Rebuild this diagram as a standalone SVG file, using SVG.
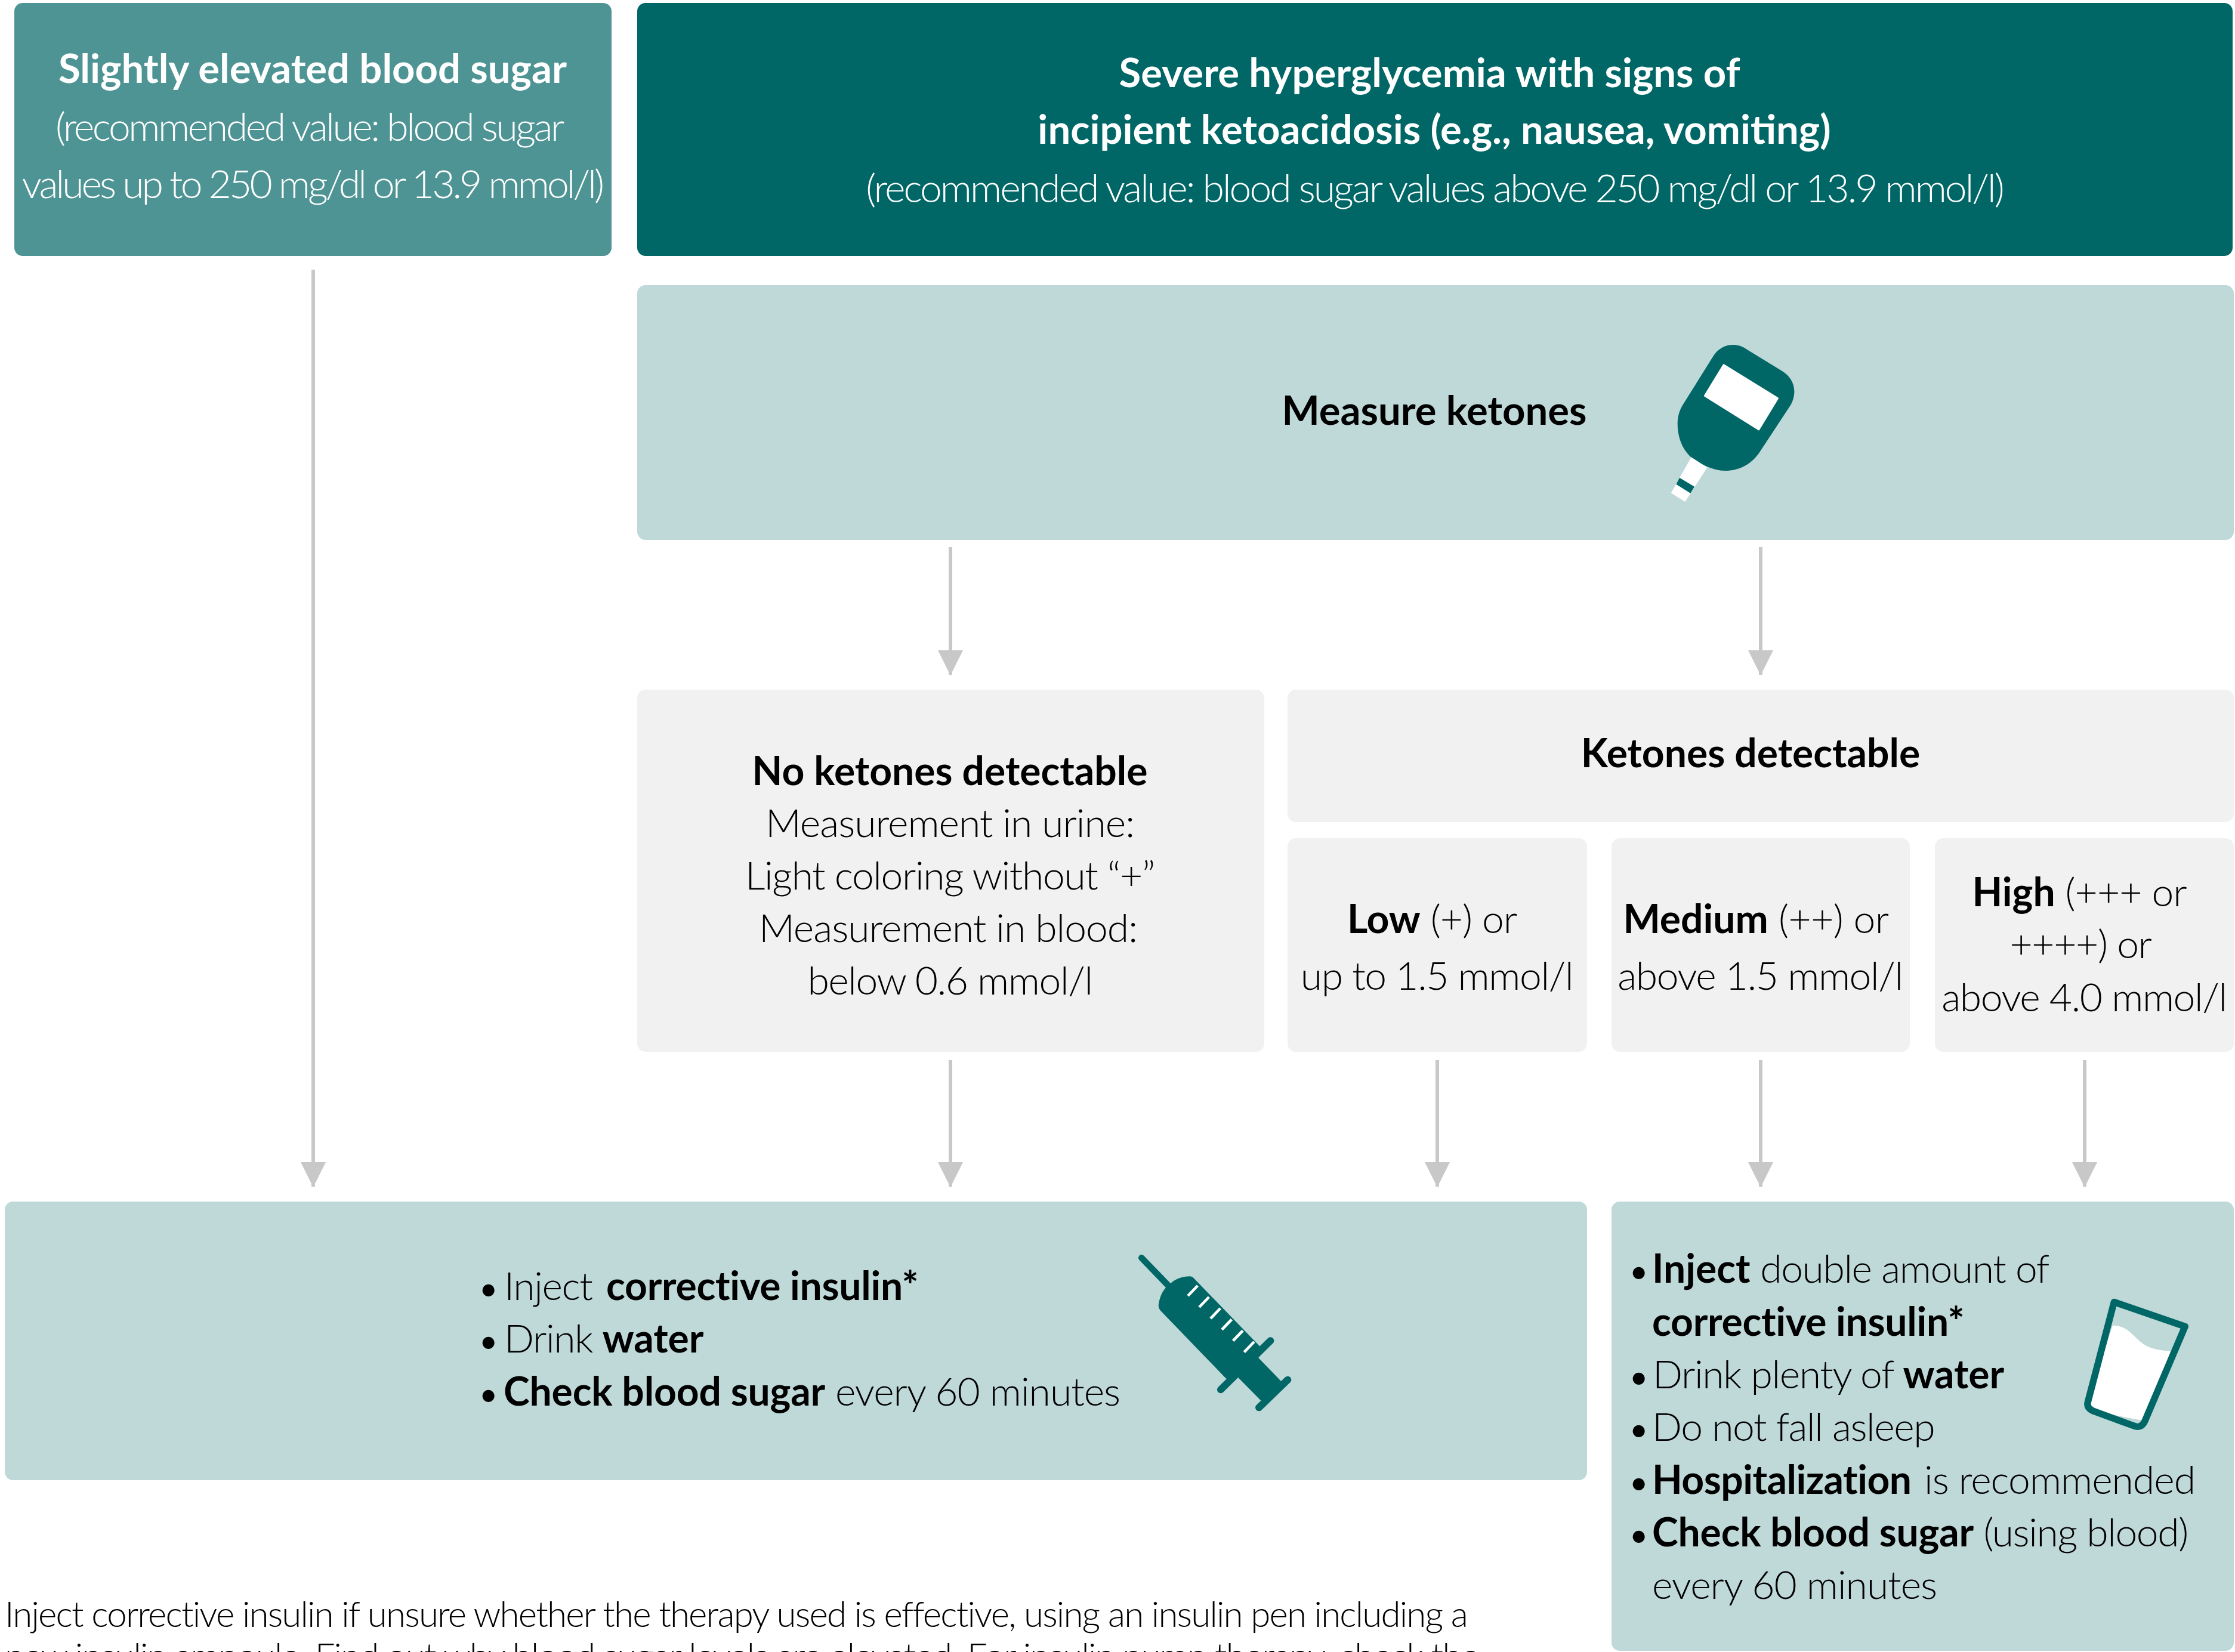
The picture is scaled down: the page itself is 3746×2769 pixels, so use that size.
<svg xmlns="http://www.w3.org/2000/svg" width="3746" height="2769" viewBox="0 0 3746 2769">
<style>
text{font-family:Lato,"Open Sans","Liberation Sans",sans-serif;font-size:66px;font-weight:300;fill:#000;letter-spacing:-1.4px}
.c{text-anchor:middle}
.w{fill:#fff}
.b{font-weight:700;letter-spacing:0}
.s1{letter-spacing:-.15px}
.s2{letter-spacing:-.25px}
.s3{letter-spacing:-.5px}
.m{letter-spacing:-1px}
.n{letter-spacing:-.6px}
.hd{font-size:67px}
.t1{letter-spacing:-3.4px}
.t3{letter-spacing:-3.9px}
.t2{letter-spacing:-2.95px}
.bu{font-size:54px;font-weight:400}
.f{font-size:60px;letter-spacing:-1.8px}
.teal{fill:#006766}
.line{stroke:#c8c8c8;stroke-width:6;fill:none;marker-end:url(#ah)}
</style>
<defs><marker id="ah" markerUnits="userSpaceOnUse" markerWidth="44" markerHeight="42" refX="41" refY="21" orient="auto"><path d="M0 0L42 21L0 42Z" fill="#c8c8c8"/></marker></defs>
<rect width="3746" height="2769" fill="#fff"/>
<g id="connectors">
<path class="line" d="M525 452V1989"/>
<path class="line" d="M1593 917V1131"/>
<path class="line" d="M2951 917V1131"/>
<path class="line" d="M1593 1777V1989"/>
<path class="line" d="M2409 1777V1989"/>
<path class="line" d="M2951 1777V1989"/>
<path class="line" d="M3494 1777V1989"/>
</g>
<g id="n1"><rect x="24" y="5" width="1001" height="424" rx="14" fill="#4f9494"/>
<text class="c w b hd" x="524" y="139">Slightly elevated blood sugar</text>
<text class="c w t1" x="518" y="236">(recommended value: blood sugar</text>
<text class="c w t3" x="523" y="332">values up to 250 mg/dl or 13.9 mmol/l)</text></g>
<g id="n2"><rect x="1068" y="5" width="2674" height="424" rx="14" fill="#006766"/>
<text class="c w b hd" x="2396" y="146">Severe hyperglycemia with signs of</text>
<text class="c w b hd" x="2404" y="241">incipient ketoacidosis (e.g., nausea, vomiting)</text>
<text class="c w t2" x="2404" y="339">(recommended value: blood sugar values above 250 mg/dl or 13.9 mmol/l)</text></g>
<g id="n3"><rect x="1068" y="478" width="2676" height="427" rx="14" fill="#bfd8d8"/>
<text class="c b hd" x="2404" y="712">Measure ketones</text>
<g transform="translate(2700,500) scale(.33333)">
<path class="teal" d="M515 290C555 228 630 220 680 255L860 365C920 400 940 470 905 535L750 770C712 830 650 867 575 867C525 867 470 845 408 803C360 765 335 700 335 630C335 595 345 560 365 530Z"/>
<path fill="#fff" stroke="#fff" stroke-width="10" stroke-linejoin="round" d="M567 336L838 503L743 659L473 490Z"/>
<path fill="#fff" stroke="#fff" stroke-width="6" stroke-linejoin="round" d="M405 803L480 852L372 1019L306 978Z"/>
<path class="teal" d="M345 902L420 947L400 980L328 935Z"/>
</g></g>
<g id="n4"><rect x="1068" y="1156" width="1051" height="607" rx="14" fill="#f1f1f1"/>
<text class="c b" x="1592" y="1316">No ketones detectable</text>
<text class="c m" x="1592" y="1403">Measurement in urine:</text>
<text class="c" x="1592" y="1491">Light coloring without “+”</text>
<text class="c m" x="1589" y="1579">Measurement in blood:</text>
<text class="c" x="1592" y="1667">below 0.6 mmol/l</text></g>
<g id="n5"><rect x="2158" y="1156" width="1586" height="222" rx="14" fill="#f1f1f1"/>
<text class="c b" x="2934" y="1286">Ketones detectable</text></g>
<g id="n6"><rect x="2158" y="1405" width="502" height="358" rx="14" fill="#f1f1f1"/>
<text class="c m" x="2400" y="1564"><tspan class="b">Low</tspan> (+) or</text>
<text class="c" x="2408" y="1659">up to 1.5 mmol/l</text></g>
<g id="n7"><rect x="2701" y="1405" width="500" height="358" rx="14" fill="#f1f1f1"/>
<text class="c n" x="2943" y="1564"><tspan class="b">Medium</tspan> (++) or</text>
<text class="c" x="2950" y="1659">above 1.5 mmol/l</text></g>
<g id="n8"><rect x="3243" y="1405" width="501" height="358" rx="14" fill="#f1f1f1"/>
<text class="c m" x="3485" y="1519"><tspan class="b">High</tspan> (+++ or</text>
<text class="c" x="3487" y="1606">++++) or</text>
<text class="c" x="3493" y="1695">above 4.0 mmol/l</text></g>
<g id="n9"><rect x="8" y="2014" width="2652" height="467" rx="14" fill="#bfd8d8"/>
<text y="2179"><tspan class="bu" x="803">•</tspan><tspan x="845">Inject </tspan><tspan class="b s2" x="1016">corrective insulin*</tspan></text>
<text y="2267"><tspan class="bu" x="803">•</tspan><tspan x="845">Drink </tspan><tspan class="b">water</tspan></text>
<text y="2356"><tspan class="bu" x="803">•</tspan><tspan class="b s1" x="844">Check blood sugar</tspan><tspan class="m"> every 60 minutes</tspan></text>
<g transform="translate(1850,2040) scale(.33333)">
<path fill="none" stroke="#006766" stroke-width="32" stroke-linecap="round" d="M190 205L325 345"/>
<path fill="none" stroke="#006766" stroke-width="36" stroke-linecap="round" d="M588 868L838 622M780 958L925 818"/>
<path class="teal" d="M337 332C365 308 400 298 432 298Q445 298 455 310L785 650L778 708L892 826L792 925L675 806L615 812L285 470Q275 458 275 445C280 405 292 378 312 355Z"/>
<path stroke="#fff" stroke-width="14" d="M423 396L472 345M480 453L529 402M537 510L586 459M594 566L643 515M650 622L699 571M706 679L756 627"/>
</g></g>
<g id="n10"><rect x="2701" y="2014" width="1043" height="753" rx="14" fill="#bfd8d8"/>
<text y="2150"><tspan class="bu" x="2731">•</tspan><tspan class="b" x="2769">Inject</tspan> double amount of</text>
<text x="2769" y="2239" class="b s2">corrective insulin*</text>
<text y="2327"><tspan class="bu" x="2731">•</tspan><tspan x="2770">Drink plenty of </tspan><tspan class="b">water</tspan></text>
<text y="2415"><tspan class="bu" x="2731">•</tspan><tspan x="2769">Do not fall asleep</tspan></text>
<text y="2504"><tspan class="bu" x="2731">•</tspan><tspan class="b s3" x="2769">Hospitalization</tspan><tspan class="m" x="3225">is recommended</tspan></text>
<text y="2592"><tspan class="bu" x="2731">•</tspan><tspan class="b s1" x="2769">Check blood sugar</tspan> (using blood)</text>
<text x="2769" y="2680" class="m">every 60 minutes</text>
<g transform="translate(3400,2140) scale(.33333)">
<path fill="#fff" d="M423 245C490 245 515 285 560 325C600 362 660 372 715 374L585 725L325 675L298 630Z"/>
<path fill="none" stroke="#006766" stroke-width="34" stroke-linejoin="round" d="M430 127L787 250L585 725Q567 765 530 750L325 675Q290 660 298 630Z"/>
</g></g>
<g id="footnote">
<text class="f" x="8" y="2727">Inject corrective insulin if unsure whether the therapy used is effective, using an insulin pen including a</text>
<text class="f" x="8" y="2797">new insulin ampoule. Find out why blood sugar levels are elevated. For insulin pump therapy, check the</text>
</g>
</svg>
